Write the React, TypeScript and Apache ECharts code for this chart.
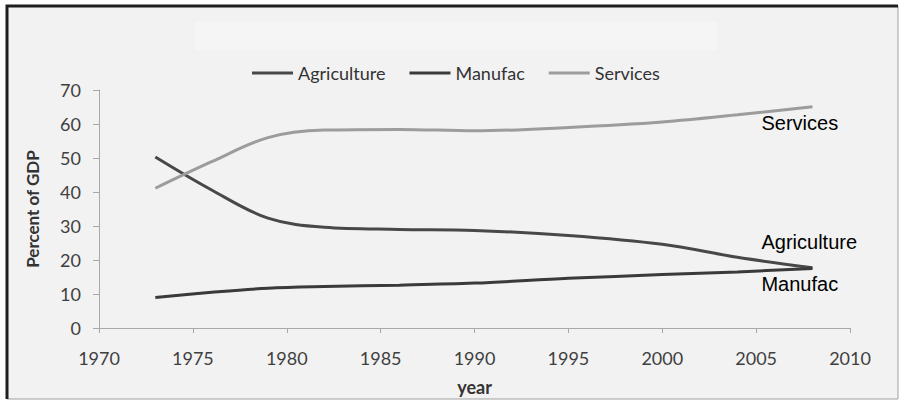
import React, { useEffect, useRef } from "react";
import * as echarts from "echarts";

const seriesNames = ["Agriculture", "Manufac", "Services"];
const years = [1973, 1976, 1979, 1982, 1986, 1990, 1995, 2000, 2004, 2008];
const agriculture = [50.3, 40.6, 32.3, 29.6, 29.0, 28.7, 27.2, 24.6, 20.8, 17.7];
const manufac = [9.0, 10.5, 11.7, 12.2, 12.6, 13.2, 14.6, 15.7, 16.5, 17.5];
const services = [41.1, 48.9, 56.0, 58.2, 58.4, 58.0, 59.0, 60.6, 62.7, 65.1];
const xTicks = { min: 1970, max: 2010, interval: 5 };
const yTicks = { min: 0, max: 70, interval: 10 };

const pairs = (vals: number[]) => years.map((y, i) => [y, vals[i]]);

export default function App() {
  const ref = useRef<HTMLDivElement>(null);
  useEffect(() => {
    if (!ref.current) return;
    const chart = echarts.init(ref.current, undefined, { renderer: "svg" });
    const axisFont = { fontFamily: "Lato", fontSize: 18, color: "#3f3f3f" };
    const colors = ["#484848", "#3a3a3a", "#9c9c9c"];
    const data = [agriculture, manufac, services];
    const labelOffsets = [
      [-51, -26],
      [-51, 15],
      [-51, 16],
    ];
    chart.setOption({
      animation: false,
      backgroundColor: "#ffffff",
      graphic: [
        { type: "rect", shape: { x: 7, y: 6, width: 891, height: 393 }, style: { fill: "#f2f2f2" }, z: -10 },
        { type: "rect", shape: { x: 195, y: 22, width: 522, height: 28 }, style: { fill: "#f5f5f5" }, z: -9 },
        { type: "polyline", shape: { points: [[898, 6], [898, 399], [7, 399]] }, style: { stroke: "#a0a0a0", lineWidth: 1, fill: "none" }, z: -8 },
        { type: "polyline", shape: { points: [[7, 399], [7, 6], [898, 6]] }, style: { stroke: "#1e1e1e", lineWidth: 3, fill: "none" }, z: -8 },
      ],
      legend: {
        left: 252,
        top: 64,
        padding: 0,
        icon: "rect",
        itemWidth: 41,
        itemHeight: 3,
        itemGap: 24,
        textStyle: { fontFamily: "Lato", fontSize: 18, color: "#333" },
        data: seriesNames,
      },
      grid: { left: 99, right: 50, top: 90, bottom: 71 },
      xAxis: {
        type: "value",
        min: xTicks.min,
        max: xTicks.max,
        interval: xTicks.interval,
        name: "year",
        nameLocation: "middle",
        nameGap: 50,
        nameTextStyle: { fontFamily: "Lato", fontSize: 18, fontWeight: "bold", color: "#333" },
        axisLine: { lineStyle: { color: "#a8a8a8", width: 1 } },
        axisTick: { show: true, length: 5, lineStyle: { color: "#a8a8a8" } },
        axisLabel: { ...axisFont, margin: 21, formatter: (v: number) => String(v) },
        splitLine: { show: false },
      },
      yAxis: {
        type: "value",
        min: yTicks.min,
        max: yTicks.max,
        interval: yTicks.interval,
        name: "Percent of GDP",
        nameLocation: "middle",
        nameGap: 58,
        nameTextStyle: { fontFamily: "Lato", fontSize: 17, fontWeight: "bold", color: "#333" },
        axisLine: { show: true, lineStyle: { color: "#a8a8a8", width: 1 } },
        axisTick: { show: true, length: 6, lineStyle: { color: "#a8a8a8" } },
        axisLabel: { ...axisFont, margin: 18 },
        splitLine: { show: false },
      },
      series: seriesNames.map((name, i) => ({
        name,
        type: "line",
        data: pairs(data[i]),
        smooth: 0.35,
        showSymbol: false,
        symbol: "none",
        color: colors[i],
        lineStyle: { width: 3, color: colors[i] },
        endLabel: {
          show: true,
          formatter: "{a}",
          distance: 0,
          offset: labelOffsets[i],
          fontFamily: "Liberation Sans",
          fontSize: 20,
          color: "#000",
        },
      })),
    });
    return () => chart.dispose();
  }, []);
  return (
    <div style={{ position: "absolute", left: 0, top: 0, width: 900, height: 401 }}>
      <div ref={ref} style={{ width: 900, height: 401 }} />
    </div>
  );
}
